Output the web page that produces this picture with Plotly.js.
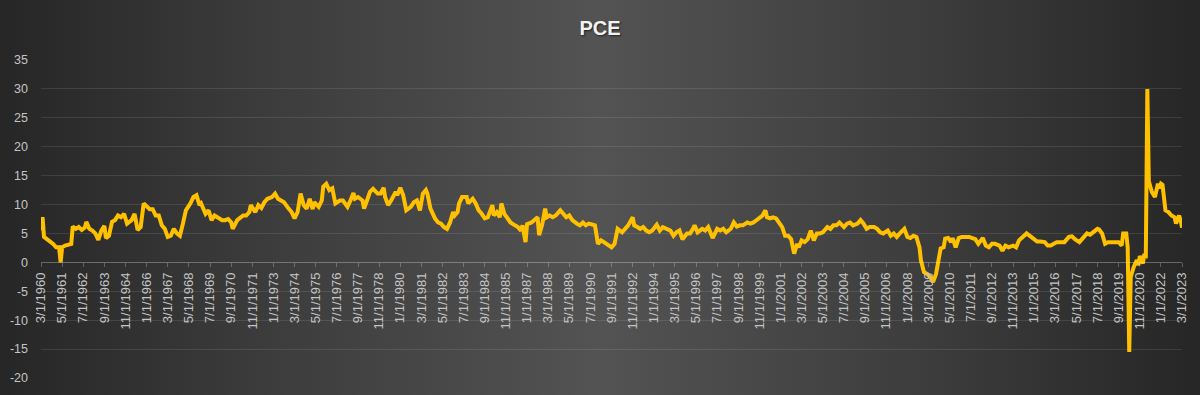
<!DOCTYPE html>
<html>
<head>
<meta charset="utf-8">
<script src="https://cdn.plot.ly/plotly-3.0.1.min.js"></script>
<style>
  html, body { margin: 0; padding: 0; width: 1200px; height: 395px; overflow: hidden; }
  body { background: linear-gradient(to right, #262626 0%, #3a3a3a 20%, #535353 50%, #3a3a3a 80%, #262626 100%); }
  #chart { width: 1200px; height: 395px; }
</style>
</head>
<body>
<div id="chart"></div>
<script>
const dates = [
"1960-03","1960-04","1960-05","1960-07","1960-09","1960-11","1961-01","1961-03","1961-04","1961-05",
"1961-07","1961-09","1961-11","1961-12","1962-02","1962-04","1962-06","1962-08","1962-09","1962-11",
"1963-01","1963-03","1963-05","1963-07","1963-09","1963-10","1963-12","1964-02","1964-04","1964-06",
"1964-08","1964-10","1964-12","1965-03","1965-05","1965-07","1965-09","1965-11","1966-01","1966-03",
"1966-05","1966-07","1966-09","1966-11","1967-01","1967-03","1967-05","1967-07","1967-09","1967-11",
"1968-01","1968-03","1968-06","1968-08","1968-10","1968-12","1969-01","1969-04","1969-06","1969-08",
"1969-10","1969-12","1970-03","1970-05","1970-07","1970-09","1970-10","1971-01","1971-03","1971-05",
"1971-07","1971-09","1971-10","1972-01","1972-03","1972-05","1972-07","1972-09","1972-12","1973-02",
"1973-04","1973-06","1973-08","1973-11","1974-01","1974-03","1974-05","1974-07","1974-09","1974-11",
"1975-01","1975-03","1975-04","1975-07","1975-09","1975-10","1975-12","1976-02","1976-04","1976-06",
"1976-07","1976-09","1976-11","1977-02","1977-04","1977-06","1977-07","1977-09","1977-12","1978-01",
"1978-03","1978-05","1978-07","1978-10","1978-12","1979-02","1979-03","1979-05","1979-07","1979-10",
"1979-11","1980-01","1980-03","1980-05","1980-08","1980-10","1980-12","1981-02","1981-04","1981-06",
"1981-07","1981-09","1981-12","1982-02","1982-04","1982-06","1982-08","1982-10","1982-12","1983-01",
"1983-03","1983-04","1983-06","1983-09","1983-10","1984-01","1984-03","1984-05","1984-07","1984-09",
"1984-11","1985-02","1985-03","1985-05","1985-07","1985-08","1985-10","1985-12","1986-02","1986-05",
"1986-07","1986-09","1986-10","1986-12","1987-01","1987-04","1987-06","1987-08","1987-09","1987-11",
"1988-01","1988-02","1988-04","1988-06","1988-08","1988-11","1989-01","1989-03","1989-05","1989-07",
"1989-10","1989-12","1990-02","1990-04","1990-06","1990-09","1990-10","1990-12","1991-02","1991-04",
"1991-07","1991-09","1991-11","1992-01","1992-04","1992-06","1992-08","1992-11","1992-12","1993-02",
"1993-04","1993-06","1993-08","1993-10","1993-12","1994-03","1994-05","1994-07","1994-09","1994-12",
"1995-02","1995-04","1995-06","1995-08","1995-11","1996-01","1996-03","1996-04","1996-06","1996-09",
"1996-11","1997-01","1997-04","1997-07","1997-09","1997-11","1998-01","1998-04","1998-06","1998-08",
"1998-10","1998-12","1999-03","1999-05","1999-07","1999-09","1999-11","2000-01","2000-03","2000-04",
"2000-06","2000-08","2000-10","2000-12","2001-02","2001-04","2001-06","2001-08","2001-10","2001-12",
"2002-01","2002-03","2002-05","2002-07","2002-09","2002-11","2003-01","2003-03","2003-05","2003-08",
"2003-10","2003-12","2004-02","2004-04","2004-07","2004-09","2004-11","2005-01","2005-04","2005-06",
"2005-08","2005-10","2005-12","2006-03","2006-05","2006-07","2006-09","2006-12","2007-02","2007-04",
"2007-06","2007-08","2007-11","2008-01","2008-03","2008-05","2008-07","2008-09","2008-10","2008-12",
"2009-02","2009-04","2009-06","2009-08","2009-10","2009-11","2010-01","2010-02","2010-04","2010-06",
"2010-07","2010-09","2010-11","2011-01","2011-04","2011-06","2011-08","2011-10","2011-12","2012-03",
"2012-05","2012-07","2012-09","2012-11","2013-02","2013-04","2013-06","2013-08","2013-11","2014-01",
"2014-03","2014-05","2014-08","2014-11","2015-01","2015-03","2015-05","2015-08","2015-10","2015-12",
"2016-04","2016-09","2016-12","2017-02","2017-04","2017-07","2017-10","2017-12","2018-02","2018-05",
"2018-07","2018-08","2018-10","2018-12","2019-02","2019-06","2019-09","2019-11","2019-12","2020-02",
"2020-03","2020-04","2020-05","2020-07","2020-09","2020-10","2020-11","2021-01","2021-02","2021-03",
"2021-04","2021-05","2021-07","2021-09","2021-11","2021-12","2022-01","2022-02","2022-04","2022-06",
"2022-08","2022-10","2022-11","2023-01","2023-02","2023-03"
];
const pce = [
5.5,7.8,4.4,4.0,3.8,3.2,2.6,2.6,0.0,2.6,
2.9,3.0,3.2,6.2,5.8,6.1,5.6,6.0,7.0,5.8,
5.5,5.0,3.9,5.5,6.3,4.2,4.6,7.0,7.3,8.1,
7.8,8.4,6.7,7.3,8.4,5.6,6.1,10.2,9.6,9.2,
9.2,8.1,8.1,6.4,5.8,4.4,4.6,5.8,5.0,4.6,
6.7,9.0,10.2,11.3,11.6,9.9,10.2,8.4,9.0,7.3,
8.1,7.8,7.3,7.3,7.5,6.9,5.8,7.3,7.8,8.1,
8.1,8.7,9.9,8.7,9.9,9.4,10.4,11.0,11.3,11.9,
11.0,10.7,10.4,9.3,8.7,7.6,8.7,11.9,9.9,9.3,
11.0,9.2,10.4,9.6,10.7,13.1,13.6,12.5,12.8,10.2,
10.4,10.7,10.7,9.6,10.7,12.0,11.0,11.3,10.7,9.3,
10.7,12.2,12.7,11.9,11.9,12.9,11.3,9.9,10.7,12.2,
11.6,12.9,11.6,9.0,9.6,10.4,10.7,9.0,11.9,12.5,
11.9,9.3,7.6,6.9,6.7,6.1,5.8,6.9,8.7,8.1,
8.7,10.2,11.3,11.3,10.2,11.0,10.2,9.0,8.4,7.6,
7.8,9.9,8.1,8.7,7.8,10.2,8.4,7.6,6.9,6.4,
6.1,5.5,6.4,3.5,6.6,6.9,7.3,7.8,4.7,6.5,
9.3,7.8,8.1,7.8,8.1,9.0,8.4,7.8,8.1,7.3,
6.7,6.4,6.9,6.4,6.7,6.4,6.4,3.2,3.8,3.5,
2.9,2.6,3.2,5.8,5.2,5.8,6.4,7.8,6.4,6.1,
5.8,6.1,5.5,5.2,5.5,6.5,5.5,6.1,5.8,5.5,
4.6,5.2,5.5,4.0,5.0,5.0,5.8,6.4,5.2,5.8,
5.5,6.1,4.2,5.8,5.5,5.8,5.2,5.8,6.9,6.2,
6.4,6.4,6.9,6.7,6.9,7.3,7.6,8.1,9.0,7.8,
7.6,7.8,7.6,6.9,6.1,4.6,4.6,4.0,1.5,3.2,
2.6,3.8,3.5,4.0,5.5,3.8,5.0,5.0,5.2,6.1,
5.8,6.4,6.4,6.9,6.1,6.7,6.9,6.4,6.7,7.3,
6.7,5.8,6.1,6.1,5.8,5.2,5.0,5.5,4.6,5.0,
4.4,5.0,5.8,4.4,4.2,4.6,4.4,2.6,0.3,-1.7,
-2.0,-2.5,-3.4,-2.0,1.0,2.4,2.6,4.1,4.2,3.5,
4.2,2.6,4.2,4.4,4.4,4.4,4.2,4.0,3.2,4.2,
2.9,2.6,3.2,3.2,2.9,2.0,2.9,2.6,2.9,2.6,
3.8,4.2,5.0,4.4,4.0,3.6,3.6,3.5,2.9,2.9,
3.5,3.5,4.4,4.5,4.0,3.5,4.4,5.0,4.8,5.4,
5.8,5.7,5.0,3.2,3.5,3.5,3.5,2.9,5.0,5.0,
2.6,-15.5,-2.5,-0.8,0.4,-0.5,1.1,-0.2,1.5,0.7,
30.0,14.0,12.2,11.3,13.6,12.8,13.6,13.4,9.0,8.7,
8.1,7.8,6.7,8.1,7.3,6.0
];
const tickLabels = [
"3/1/1960","5/1/1961","7/1/1962","9/1/1963","11/1/1964","1/1/1966","3/1/1967","5/1/1968","7/1/1969","9/1/1970",
"11/1/1971","1/1/1973","3/1/1974","5/1/1975","7/1/1976","9/1/1977","11/1/1978","1/1/1980","3/1/1981","5/1/1982",
"7/1/1983","9/1/1984","11/1/1985","1/1/1987","3/1/1988","5/1/1989","7/1/1990","9/1/1991","11/1/1992","1/1/1994",
"3/1/1995","5/1/1996","7/1/1997","9/1/1998","11/1/1999","1/1/2001","3/1/2002","5/1/2003","7/1/2004","9/1/2005",
"11/1/2006","1/1/2008","3/1/2009","5/1/2010","7/1/2011","9/1/2012","11/1/2013","1/1/2015","3/1/2016","5/1/2017",
"7/1/2018","9/1/2019","11/1/2020","1/1/2022","3/1/2023"
];
const yTicks = [-20,-15,-10,-5,0,5,10,15,20,25,30,35];

function toIso(lbl) {
  const p = lbl.split('/');
  return p[2] + '-' + String(p[0]).padStart(2, '0') + '-' + String(p[1]).padStart(2, '0');
}
const tickVals = tickLabels.map(toIso);
const yMin = yTicks[0], yMax = yTicks[yTicks.length - 1];

const trace = {
  x: dates,
  y: pce,
  type: 'scatter',
  mode: 'lines',
  line: { color: '#FFC000', width: 4 },
  hoverinfo: 'x+y'
};

const layout = {
  width: 1200,
  height: 395,
  margin: { l: 41, r: 18, t: 60, b: 17, pad: 0 },
  paper_bgcolor: 'rgba(0,0,0,0)',
  plot_bgcolor: 'rgba(0,0,0,0)',
  showlegend: false,
  title: {
    text: '<b>PCE</b>',
    x: 0.5, xref: 'container', xanchor: 'center',
    y: 1 - 28 / 395, yref: 'container', yanchor: 'middle',
    font: { family: 'Liberation Sans, Arial, sans-serif', size: 20, color: '#f2f2f2',
            shadow: '1px 1px 2px rgba(0,0,0,0.6)' }
  },
  xaxis: {
    type: 'date',
    range: [tickVals[0], tickVals[tickVals.length - 1]],
    anchor: 'free',
    position: (0 - yMin) / (yMax - yMin),
    tickmode: 'array',
    tickvals: tickVals,
    ticktext: tickLabels,
    tickangle: -90,
    ticks: 'outside',
    ticklen: 4,
    tickcolor: 'rgba(255,255,255,0.25)',
    showline: true,
    linecolor: 'rgba(255,255,255,0.22)',
    linewidth: 1,
    showgrid: false,
    zeroline: false,
    tickfont: { family: 'Liberation Sans, Arial, sans-serif', size: 13, color: '#c4c4c4' }
  },
  yaxis: {
    range: [yMin, yMax],
    tickmode: 'array',
    tickvals: yTicks,
    ticktext: yTicks.map(String),
    showgrid: true,
    gridcolor: 'rgba(255,255,255,0.10)',
    gridwidth: 1,
    zeroline: false,
    showline: false,
    ticks: '',
    ticklabelstandoff: 12,
    tickfont: { family: 'Liberation Sans, Arial, sans-serif', size: 12.5, color: '#c4c4c4' }
  },
  hovermode: false
};

Plotly.newPlot('chart', [trace], layout, { displayModeBar: false, staticPlot: true });
</script>
</body>
</html>
